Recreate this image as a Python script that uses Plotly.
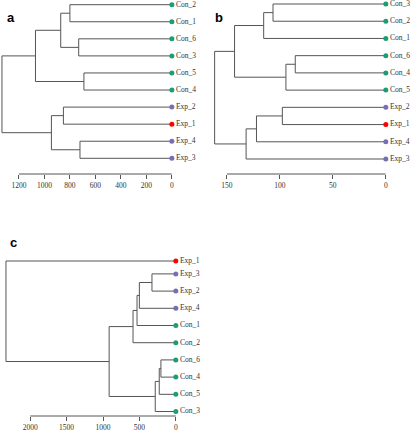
import plotly.graph_objects as go

# ---------------- data ----------------
# Panel a
leaves_a = ["Con_2", "Con_1", "Con_6", "Con_3", "Con_5", "Con_4", "Exp_2", "Exp_1", "Exp_4", "Exp_3"]
merge_a = [(-1, -2), (-3, -4), (-5, -6), (1, 2), (4, 3), (-7, -8), (-9, -10), (6, 7), (5, 8)]
height_a = [800, 731, 690, 872, 1070, 851, 721, 945, 1333]
pos_a = [0, 1, 2, 3, 4, 5, 6, 7, 8, 9]
ticks_a = [1200, 1000, 800, 600, 400, 200, 0]

# Panel b
leaves_b = ["Con_3", "Con_2", "Con_1", "Con_6", "Con_4", "Con_5", "Exp_2", "Exp_1", "Exp_4", "Exp_3"]
merge_b = [(-1, -2), (1, -3), (-4, -5), (3, -6), (2, 4), (-7, -8), (6, -9), (7, -10), (5, 8)]
height_b = [106.5, 115.3, 85.5, 94.3, 142.8, 97.7, 122.1, 131.9, 161.6]
pos_b = [0, 1, 2, 3, 4, 5, 6, 7, 8, 9]
ticks_b = [150, 100, 50, 0]

# Panel c
leaves_c = ["Exp_1", "Exp_3", "Exp_2", "Exp_4", "Con_1", "Con_2", "Con_6", "Con_4", "Con_5", "Con_3"]
merge_c = [(-2, -3), (1, -4), (2, -5), (3, -6), (-7, -8), (5, -9), (6, -10), (4, 7), (-1, 8)]
height_c = [328, 501, 533, 588, 205, 228, 283, 916, 2333]
pos_c = [0, 0.75, 1.75, 2.75, 3.75, 4.75, 5.75, 6.75, 7.75, 8.75]
ticks_c = [2000, 1500, 1000, 500, 0]

group_colors = {"Con": "#1b9e77", "Exp": "#7570b3", "Exp_1": "#ff0000"}

LINE = "#555555"
TEXT = "#333333"


def leaf_color(name):
    if name in group_colors:
        return group_colors[name]
    return group_colors[name.split("_")[0]]


def segments(merge, heights, leaf_pos):
    node_y = []
    xs, ys = [], []

    def child(c):
        if c < 0:
            return leaf_pos[-c - 1], 0.0
        return node_y[c - 1], heights[c - 1]

    for (a, b), h in zip(merge, heights):
        ya, ha = child(a)
        yb, hb = child(b)
        xs += [ha, h, h, hb, None]
        ys += [ya, ya, yb, yb, None]
        node_y.append((ya + yb) / 2)
    return xs, ys


fig = go.Figure()

W, H = 412, 440

panels = [
    # leaves, merge, heights, pos, ticks, xdom(px), xrange, ydom(px top,bottom), yrange
    (leaves_a, merge_a, height_a, pos_a, ticks_a, (0, 172.7), [1348.4, 0], (0, 174), [9.92, -0.275]),
    (leaves_b, merge_b, height_b, pos_b, ticks_b, (206, 387.7), [170.7, 0], (0, 174), [9.87, -0.232]),
    (leaves_c, merge_c, height_c, pos_c, ticks_c, (0, 176.7), [2415, 0], (245, 416), [9.01, -0.93]),
]

for i, (leaves, merge, heights, pos, ticks, xd, xr, yd, yr) in enumerate(panels):
    sfx = "" if i == 0 else str(i + 1)
    xa, ya = "x" + sfx, "y" + sfx
    xs, ys = segments(merge, heights, pos)
    fig.add_trace(go.Scatter(x=xs, y=ys, mode="lines", xaxis=xa, yaxis=ya,
                             line=dict(color=LINE, width=1), hoverinfo="skip"))
    fig.add_trace(go.Scatter(x=[0] * len(leaves), y=pos, mode="markers+text", xaxis=xa, yaxis=ya,
                             text=leaves, textposition="middle right",
                             textfont=dict(family="Liberation Serif", size=7.5, color=TEXT),
                             marker=dict(size=5, color=[leaf_color(n) for n in leaves]),
                             cliponaxis=False))
    fig.update_layout(**{
        "xaxis" + sfx: dict(domain=[xd[0] / W, xd[1] / W], range=xr, showgrid=False, zeroline=False,
                            showline=False, ticks="outside", ticklen=4, tickcolor=LINE, tickwidth=1,
                            tickvals=ticks, ticktext=[str(t) for t in ticks], anchor=ya,
                            tickfont=dict(family="Liberation Serif", size=7.5, color=TEXT)),
        "yaxis" + sfx: dict(domain=[1 - yd[1] / H, 1 - yd[0] / H], range=yr, visible=False,
                            showgrid=False, zeroline=False, anchor=xa),
    })
    fig.add_shape(type="line", xref=xa, yref=ya + " domain", x0=max(ticks), x1=0, y0=0, y1=0,
                  line=dict(color=LINE, width=1))

for letter, px, py in [("a", 5, 8), ("b", 220, 8), ("c", 8, 242)]:
    fig.add_annotation(text="<b>%s</b>" % letter, xref="paper", yref="paper",
                       x=px / W, y=1 - py / H, showarrow=False,
                       font=dict(family="Liberation Sans", size=13, color="black"))

fig.update_layout(width=W, height=H, margin=dict(l=0, r=0, t=0, b=0),
                  plot_bgcolor="white", paper_bgcolor="white", showlegend=False)

fig.write_html("out.html", config={"displayModeBar": False},
               post_script="document.body.style.margin='0';document.body.style.overflow='hidden';")
